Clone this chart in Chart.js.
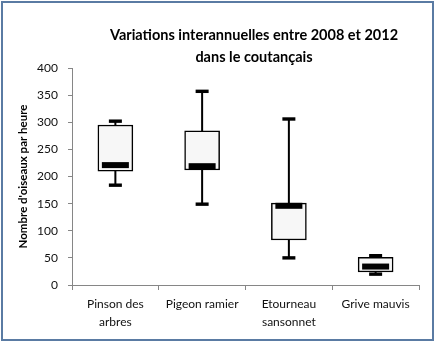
<!DOCTYPE html>
<html>
<head>
<meta charset="utf-8">
<script src="https://cdn.jsdelivr.net/npm/chart.js@4"></script>
<style>
html,body{margin:0;padding:0;background:#fff;}
#wrap{position:relative;width:436px;height:344px;}
</style>
</head>
<body>
<div id="wrap"><canvas id="c" width="436" height="344"></canvas></div>
<script>
const titleLines = ["Variations interannuelles entre 2008 et 2012", "dans le coutançais"];
const yTitle = "Nombre d'oiseaux par heure";
const categories = [["Pinson des", "arbres"], "Pigeon ramier", ["Etourneau", "sansonnet"], "Grive mauvis"];
const minValues = [184, 149, 50, 20];
const q1Values = [210, 212, 83, 24];
const medianValues = [221, 219, 146, 34];
const q3Values = [295, 284, 151, 51];
const maxValues = [302, 357, 306, 54];
const yMin = 0, yMax = 400, yStep = 50;

const FONT = "Lato, 'Open Sans', sans-serif";

const boxPlugin = {
  id: 'boxExtras',
  beforeDatasetsDraw(chart) {
    const ctx = chart.ctx, y = chart.scales.y;
    const meta = chart.getDatasetMeta(0);
    ctx.save();
    ctx.strokeStyle = '#000';
    meta.data.forEach((bar, i) => {
      const x = bar.x;
      // whiskers
      ctx.lineWidth = 2;
      ctx.beginPath();
      ctx.moveTo(x, y.getPixelForValue(q3Values[i]));
      ctx.lineTo(x, y.getPixelForValue(maxValues[i]));
      ctx.moveTo(x, y.getPixelForValue(q1Values[i]));
      ctx.lineTo(x, y.getPixelForValue(minValues[i]));
      ctx.stroke();
    });
    ctx.restore();
  },
  afterDatasetsDraw(chart) {
    const ctx = chart.ctx, y = chart.scales.y;
    const meta = chart.getDatasetMeta(0);
    ctx.save();
    ctx.fillStyle = '#000';
    meta.data.forEach((bar, i) => {
      const x = bar.x;
      // caps
      [minValues[i], maxValues[i]].forEach(v => {
        const py = y.getPixelForValue(v);
        ctx.fillRect(x - 6.5, py - 1.7, 13, 3.4);
      });
      // median band
      const pm = y.getPixelForValue(medianValues[i]);
      ctx.fillRect(x - 13.5, pm - 3, 27, 6);
    });
    ctx.restore();
  },
  afterDraw(chart) {
    const ctx = chart.ctx;
    ctx.save();
    // title
    ctx.fillStyle = '#000';
    ctx.font = "bold 14.5px " + FONT;
    ctx.textAlign = 'center';
    ctx.textBaseline = 'middle';
    ctx.fillText(titleLines[0], 254, 35);
    ctx.fillText(titleLines[1], 254, 57);
    // outer frame
    ctx.strokeStyle = '#5a7ba3';
    ctx.lineWidth = 2;
    ctx.strokeRect(2, 2, 431, 338);
    ctx.restore();
  }
};

new Chart(document.getElementById('c'), {
  type: 'bar',
  data: {
    labels: categories,
    datasets: [{
      data: q1Values.map((v, i) => [v, q3Values[i]]),
      backgroundColor: '#f7f7f7',
      borderColor: '#000',
      borderWidth: 1.5,
      borderSkipped: false,
      barThickness: 35
    }]
  },
  options: {
    responsive: false,
    animation: false,
    events: [],
    layout: { padding: { top: 68, right: 17, bottom: 0, left: 2 } },
    plugins: { legend: { display: false }, tooltip: { enabled: false }, title: { display: false } },
    scales: {
      x: {
        offset: true,
        grid: { display: true, drawOnChartArea: false, offset: true, tickLength: 5, color: '#868686' },
        border: { color: '#868686', width: 1 },
        ticks: { color: '#111', font: { family: FONT, size: 12, lineHeight: 1.5 }, padding: 5, maxRotation: 0, autoSkip: false },
        afterFit(s) { s.height = 59; }
      },
      y: {
        min: yMin, max: yMax,
        grid: { display: true, drawOnChartArea: false, tickLength: 4, color: '#868686' },
        border: { color: '#868686', width: 1 },
        ticks: { stepSize: yStep, color: '#111', font: { family: FONT, size: 12 }, padding: 10 },
        title: { display: true, text: yTitle, color: '#000', font: { family: FONT, size: 11.5, weight: 'bold' }, padding: { top: 14, bottom: 0 } },
        afterFit(s) { s.width = 70; }
      }
    }
  },
  plugins: [boxPlugin]
});
</script>
</body>
</html>
